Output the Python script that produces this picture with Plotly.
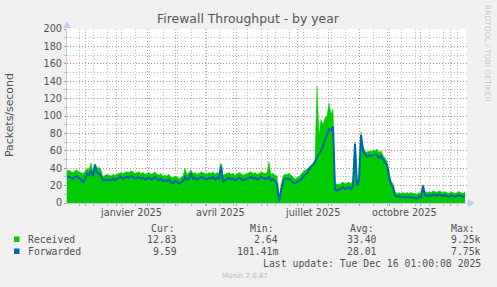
import pandas as pd
import plotly.graph_objects as go

# ---------------- data ----------------
start_date = "2024-11-13"
sample_step = "2D"

received = [
    37, 38, 36, 35, 37, 38, 36, 35, 34, 36,
    40, 38, 46, 36, 45, 40, 41, 38, 30, 32,
    33, 32, 31, 33, 32, 33, 34, 35, 34, 35,
    36, 35, 37, 36, 34, 35, 36, 34, 35, 33,
    34, 35, 33, 34, 36, 33, 32, 34, 31, 32,
    31, 33, 30, 29, 31, 30, 28, 30, 31, 40,
    33, 35, 38, 34, 35, 33, 34, 36, 35, 34,
    33, 35, 34, 36, 33, 35, 34, 46, 32, 33,
    34, 35, 33, 34, 32, 33, 35, 34, 32, 33,
    34, 35, 36, 34, 35, 33, 34, 36, 35, 34,
    35, 47, 33, 34, 32, 31, 6, 20, 31, 33,
    33, 34, 32, 29, 28, 29, 30, 33, 36, 38,
    39, 41, 42, 45, 50, 134, 78, 96, 90, 98,
    100, 115, 102, 108, 20, 22, 21, 23, 24, 22,
    23, 24, 22, 26, 70, 24, 30, 82, 65, 60,
    58, 60, 59, 61, 60, 62, 58, 60, 55, 52,
    48, 36, 25, 22, 13, 11, 12, 11, 12, 11,
    12, 11, 12, 11, 11, 10, 12, 11, 21, 13,
    12, 13, 12, 14, 13, 12, 14, 13, 12, 13,
    12, 11, 13, 12, 11, 12, 13, 12, 11, 13,
]

forwarded = [
    30, 30, 29, 28, 30, 31, 29, 26, 24, 27,
    34, 32, 37, 31, 44, 35, 34, 31, 26, 27,
    26, 27, 26, 28, 26, 28, 29, 30, 28, 29,
    30, 29, 31, 30, 28, 29, 30, 28, 29, 27,
    28, 29, 27, 28, 30, 27, 26, 28, 25, 26,
    25, 27, 24, 23, 25, 24, 22, 24, 25, 30,
    27, 28, 34, 28, 29, 27, 28, 30, 29, 28,
    27, 29, 28, 30, 27, 29, 28, 43, 24, 26,
    28, 29, 27, 28, 26, 27, 29, 28, 26, 27,
    28, 29, 30, 28, 29, 27, 28, 30, 29, 28,
    28, 30, 26, 27, 25, 22, 2, 14, 25, 28,
    28, 28, 26, 23, 23, 24, 25, 27, 30, 32,
    34, 38, 42, 44, 47, 52, 56, 60, 66, 72,
    78, 85, 83, 88, 16, 14, 15, 17, 18, 16,
    17, 18, 16, 20, 68, 20, 26, 78, 60, 56,
    53, 55, 54, 55, 56, 55, 52, 54, 50, 46,
    44, 30, 22, 18, 9, 7, 8, 7, 7, 6,
    7, 6, 7, 6, 6, 5, 7, 6, 20, 9,
    8, 9, 8, 10, 9, 8, 10, 9, 8, 9,
    8, 7, 9, 8, 7, 8, 9, 8, 7, 9,
]

x_range = ["2024-11-13", "2025-12-18"]
month_starts = [d.strftime("%Y-%m-%d") for d in pd.date_range("2024-12-01", "2025-12-01", freq="MS")]
label_dates = ["2025-01-16", "2025-04-15", "2025-07-16", "2025-10-16"]
label_text = ["janvier 2025", "avril 2025", "juillet 2025", "octobre 2025"]
y_ticks = list(range(0, 201, 20))

series_names = ["Received", "Forwarded"]
series_colors = ["#00CC00", "#0066B3"]
cur_vals = ["12.83", "9.59"]
min_vals = ["2.64", "101.41m"]
avg_vals = ["33.40", "28.01"]
max_vals = ["9.25k", "7.75k"]
last_update = "Last update: Tue Dec 16 01:00:08 2025"

# ---------------- layout helpers ----------------
W, H = 497, 287
L, R, T, B = 67, 30, 29, 84
PW, PH = W - L - R, H - T - B


def px2x(px):
    return (px - L) / PW


def py2y(py):
    return (T + PH - py) / PH


dates = pd.date_range(start_date, periods=len(received), freq=sample_step)

TXT = "#505050"
MGRID = "rgba(225,110,110,0.75)"
GRID = "rgba(170,170,170,0.75)"
AXIS = "#C4CAF4"

fig = go.Figure()
fig.add_trace(go.Scatter(x=dates, y=received, mode="lines", fill="tozeroy",
                         fillcolor=series_colors[0], line=dict(color=series_colors[0], width=0.5),
                         name=series_names[0], hoverinfo="skip"))
fig.add_trace(go.Scatter(x=dates, y=forwarded, mode="lines",
                         line=dict(color=series_colors[1], width=2),
                         name=series_names[1], hoverinfo="skip"))

fig.update_layout(
    width=W, height=H,
    margin=dict(l=L, r=R, t=T, b=B, pad=0),
    paper_bgcolor="#F0F0F0", plot_bgcolor="#FFFFFF",
    showlegend=False,
    font=dict(family="DejaVu Sans", size=9.7, color=TXT),
    title=dict(text="Firewall Throughput - by year", x=248 / W, y=1 - 19 / H,
               xanchor="center", yanchor="middle",
               font=dict(family="DejaVu Sans", size=12.4, color="#555555")),
)

fig.update_xaxes(
    type="date", range=x_range,
    tickmode="array", tickvals=month_starts, ticktext=[""] * len(month_starts),
    showgrid=True, gridcolor=MGRID, griddash="1px,2px", gridwidth=1,
    ticks="outside", ticklen=2, tickcolor=MGRID,
    minor=dict(tick0="2024-11-25", dtick=14 * 86400000, showgrid=True,
               gridcolor=GRID, griddash="1px,2px", gridwidth=1,
               ticks="outside", ticklen=2, tickcolor=GRID),
    showline=True, linecolor=AXIS, linewidth=1,
    zeroline=False, fixedrange=True,
)
fig.update_yaxes(
    range=[0, 200], tickmode="array", tickvals=y_ticks,
    showgrid=True, gridcolor=MGRID, griddash="1px,2px", gridwidth=1,
    ticks="outside", ticklen=2, tickcolor=MGRID,
    minor=dict(dtick=10, showgrid=True, gridcolor=GRID, griddash="1px,2px",
               gridwidth=1, ticks="outside", ticklen=2, tickcolor=GRID),
    showline=True, linecolor=AXIS, linewidth=1,
    zeroline=False, fixedrange=True,
    tickfont=dict(family="DejaVu Sans", size=9.7, color=TXT),
)

ann = []
# y-axis title
ann.append(dict(x=px2x(10), xref="paper", y=py2y(115), yref="paper", text="Packets/second",
                textangle=-90, showarrow=False, xanchor="center", yanchor="middle",
                font=dict(family="DejaVu Sans", size=10.9, color=TXT)))
# x-axis month labels (centered in month)
for d, t in zip(label_dates, label_text):
    ann.append(dict(x=d, xref="x", y=py2y(212), yref="paper", text=t, showarrow=False,
                    xanchor="center", yanchor="middle",
                    font=dict(family="DejaVu Sans", size=9.7, color=TXT)))

MONO = dict(family="DejaVu Sans Mono", size=9.8, color=TXT)
# header
for lbl, lx in zip(["Cur:", "Min:", "Avg:", "Max:"], [149, 248, 348, 449]):
    ann.append(dict(x=px2x(lx), xref="paper", y=py2y(228.5), yref="paper", text=lbl,
                    showarrow=False, xanchor="left", yanchor="middle", font=MONO))
rows_y = [239.5, 251.5]
for i, name in enumerate(series_names):
    yy = py2y(rows_y[i])
    ann.append(dict(x=px2x(26), xref="paper", y=yy, yref="paper", text=name,
                    showarrow=False, xanchor="left", yanchor="middle", font=MONO))
    for vals, rx in zip([cur_vals, min_vals, avg_vals, max_vals], [178.5, 279.5, 378.5, 482.5]):
        ann.append(dict(x=px2x(rx), xref="paper", y=yy, yref="paper", text=vals[i],
                        showarrow=False, xanchor="right", yanchor="middle", font=MONO))
ann.append(dict(x=px2x(482.5), xref="paper", y=py2y(263.5), yref="paper", text=last_update,
                showarrow=False, xanchor="right", yanchor="middle", font=MONO))
ann.append(dict(x=px2x(245), xref="paper", y=py2y(276), yref="paper", text="Munin 2.0.67",
                showarrow=False, xanchor="center", yanchor="middle",
                font=dict(family="DejaVu Sans", size=7, color="#BBBBBB")))
ann.append(dict(x=px2x(488), xref="paper", y=py2y(53), yref="paper",
                text="RRDTOOL / TOBI OETIKER", textangle=90, showarrow=False,
                xanchor="center", yanchor="middle",
                font=dict(family="DejaVu Sans", size=7.5, color="#C8C8C8")))
fig.update_layout(annotations=ann)

shapes = []
# legend swatches
for i, c in enumerate(series_colors):
    y0 = rows_y[i] - 3
    shapes.append(dict(type="rect", xref="paper", yref="paper",
                       x0=px2x(14), x1=px2x(19.5), y0=py2y(y0), y1=py2y(y0 + 5.5),
                       fillcolor=c, line=dict(width=0)))
# axis arrows
shapes.append(dict(type="path", xref="paper", yref="paper",
                   path=f"M {px2x(63)} {py2y(28)} L {px2x(71)} {py2y(28)} L {px2x(67)} {py2y(21)} Z",
                   fillcolor=AXIS, line=dict(width=0)))
shapes.append(dict(type="line", xref="paper", yref="paper",
                   x0=1, x1=px2x(468), y0=0, y1=0, line=dict(color=AXIS, width=1)))
shapes.append(dict(type="path", xref="paper", yref="paper",
                   path=f"M {px2x(468)} {py2y(199)} L {px2x(468)} {py2y(207)} L {px2x(475)} {py2y(203)} Z",
                   fillcolor=AXIS, line=dict(width=0)))
fig.update_layout(shapes=shapes)

fig.write_html("out.html", config=dict(displayModeBar=False))
